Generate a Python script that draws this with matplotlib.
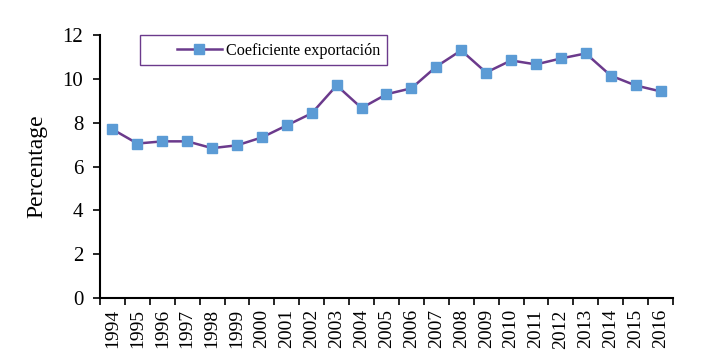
import numpy as np
import matplotlib.pyplot as plt
from matplotlib.patches import Rectangle

plt.rcParams['font.family'] = ['Liberation Serif', 'DejaVu Serif']

## the data
years = [str(y) for y in range(1994, 2017)]
coef = [7.70, 7.05, 7.15, 7.15, 6.84, 6.97, 7.33, 7.88, 8.43, 9.70,
        8.67, 9.30, 9.57, 10.56, 11.30, 10.29, 10.84, 10.66, 10.93, 11.16,
        10.15, 9.70, 9.43]

fig = plt.figure(figsize=(7.17, 3.64), dpi=100)
ax = fig.add_axes([0.1395, 0.181, 0.7991, 0.7228])

ind = np.arange(len(years))
ax.plot(ind, coef, color='#6b3a8c', linewidth=1.8, marker='s',
        markersize=7, markerfacecolor='#5b9bd5', markeredgecolor='#5b9bd5',
        label='Coeficiente exportación')

# axes
ax.set_xlim(-0.5, len(years) - 0.5)
ax.set_ylim(0, 12)
ax.set_yticks(range(0, 13, 2))
ax.set_xticks(ind)
ax.set_xticklabels(years, rotation=90, fontsize=14)
ax.set_xticks(np.arange(-0.5, len(years), 1), minor=True)
ax.tick_params(axis='x', which='major', length=0, pad=8)
ax.tick_params(axis='x', which='minor', length=5, width=1.2, direction='out')
ax.tick_params(axis='y', length=5, width=1.2, direction='out', labelsize=15, pad=7)
for s in ['top', 'right']:
    ax.spines[s].set_visible(False)
for s in ['left', 'bottom']:
    ax.spines[s].set_linewidth(1.5)
ax.set_ylabel('Percentage', fontsize=17, labelpad=11)

# legend box drawn separately so the entry sits off-center like the original
box = Rectangle((0.07, 0.886), 0.431, 0.114, transform=ax.transAxes,
                facecolor='white', edgecolor='#6b3a8c', linewidth=1.0,
                clip_on=False, zorder=3)
ax.add_patch(box)
leg = ax.legend(loc='center left', bbox_to_anchor=(0.134, 0.94),
                frameon=False, fontsize=11.6, handlelength=2.8,
                borderpad=0, borderaxespad=0, handletextpad=0.25)
leg.set_zorder(5)

fig.savefig('out.png', dpi=100)
